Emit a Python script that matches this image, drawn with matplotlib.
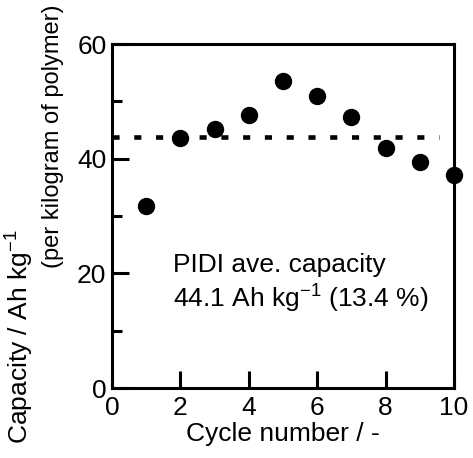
import matplotlib.pyplot as plt

plt.rcParams['font.family'] = ['Liberation Sans', 'DejaVu Sans']
plt.rcParams['mathtext.fontset'] = 'custom'
plt.rcParams['mathtext.rm'] = 'Liberation Sans'
plt.rcParams['mathtext.it'] = 'Liberation Sans:italic'
plt.rcParams['mathtext.bf'] = 'Liberation Sans:bold'

FIGSIZE = (4.73, 4.58)
DPI = 100
FS = 19

# data
cycles = [1, 2, 3, 4, 5, 6, 7, 8, 9, 10]
capacity = [31.8, 43.6, 45.1, 47.6, 53.6, 51.0, 47.3, 41.8, 39.4, 37.1]
ave_x = [0.0, 9.55]
ave_y = [43.7, 43.7]

xticks = [0, 2, 4, 6, 8, 10]
yticks = [0, 20, 40, 60]
yminor = [10, 30, 50]

fig = plt.figure(figsize=FIGSIZE, dpi=DPI)
ax = fig.add_axes([0.2368, 0.1528, 0.7230, 0.7511])

ax.plot(cycles, capacity, linestyle='', marker='o', markersize=11.5,
        color='black', zorder=3, clip_on=False)
ax.plot(ave_x, ave_y, linestyle=(0, (1.55, 3.2)), linewidth=3.3,
        color='black', dash_capstyle='butt', zorder=2)

ax.set_xlim(0, 10)
ax.set_ylim(0, 60)
ax.set_xticks(xticks)
ax.set_yticks(yticks)
ax.set_yticks(yminor, minor=True)

ax.tick_params(axis='both', which='major', direction='in', width=2.2,
               labelsize=FS)
ax.tick_params(axis='x', which='major', length=12, pad=6)
ax.tick_params(axis='y', which='major', length=12, pad=4)
ax.tick_params(axis='y', which='minor', direction='in', length=7, width=2.2)
ax.tick_params(top=False, right=False)

for sp in ax.spines.values():
    sp.set_linewidth(2.2)

ax.set_xlabel('Cycle number / -', fontsize=FS, labelpad=1)

fig.text(20 / 473, 1 - 337 / 458, 'Capacity / Ah kg$^{-1}$', rotation=90,
         fontsize=FS, ha='center', va='center')
fig.text(53 / 473, 1 - 136 / 458, '(per kilogram of polymer)', rotation=90,
         fontsize=17, ha='center', va='center')

ax.text(1.78, 20.2, 'PIDI ave. capacity', fontsize=FS, ha='left',
        va='baseline')
ax.text(1.78, 14.0, '44.1 Ah kg$^{-1}$ (13.4 %)', fontsize=FS, ha='left',
        va='baseline')

plt.savefig('out.png', dpi=DPI)
plt.close()
